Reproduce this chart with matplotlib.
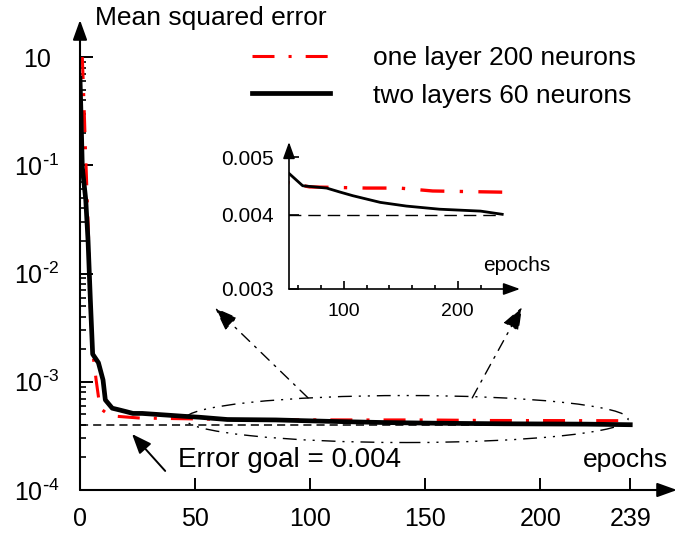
import matplotlib.pyplot as plt
from matplotlib.patches import Ellipse
from matplotlib.ticker import FixedLocator, NullLocator

plt.rcParams['font.family'] = 'Liberation Sans'
plt.rcParams['mathtext.default'] = 'regular'

RED = '#ff0000'
BLACK = '#000000'

# training curves (epoch, mean squared error)
epochs_one = [1, 1.7, 2.2, 3, 3.7, 4.3, 5.6, 7, 8.7, 13, 26, 52, 70, 120, 149, 178, 239]
mse_one = [10, 4.0, 1.8, 0.59, 0.22, 0.057, 0.018, 0.0104, 0.0057, 0.00485, 0.00462,
           0.00453, 0.00446, 0.00444, 0.00444, 0.00439, 0.00437]

epochs_two = [0, 0.5, 1, 2.5, 3.5, 4.5, 5.5, 8, 10, 11, 14, 17, 20, 23, 27, 39, 45,
              52, 64, 85, 97, 108, 132, 155, 184, 196, 220, 239]
mse_two = [6.4, 2.6, 0.96, 0.48, 0.2, 0.057, 0.018, 0.015, 0.0104, 0.0068, 0.0057,
           0.0055, 0.0053, 0.0051, 0.0051, 0.0049, 0.0048, 0.0047, 0.00448, 0.00444,
           0.00437, 0.00431, 0.0042, 0.00414, 0.00409, 0.00408, 0.00406, 0.00401]

ERROR_GOAL = 0.004
LAST_EPOCH = 239

MAIN_XTICKS = [0, 50, 100, 150, 200, 239]
MAIN_YTICKS = [10, 1, 0.1, 0.01, 0.001]
MAIN_YLABELS = ['10', r'$10^{\text{-}1}$', r'$10^{\text{-}2}$', r'$10^{\text{-}3}$',
                r'$10^{\text{-}4}$']
INSET_XTICKS = [100, 200]
INSET_XMINOR = [60, 80, 120, 140, 160, 180, 220]
INSET_YTICKS = [0.003, 0.004, 0.005]
INSET_YLABELS = ['0.003', '0.004', '0.005']

RED_DASH = (7.2, 4.6, 1, 4.6)


def axis_arrows(ax, lw, scale):
    # draw the two axis lines as arrows instead of plain spines
    for end in [(1, 0), (0, 1)]:
        ax.annotate('', xy=end, xytext=(0, 0), xycoords='axes fraction',
                    arrowprops=dict(arrowstyle='-|>,head_length=1.0,head_width=0.36',
                                    lw=lw, color=BLACK, shrinkA=0, shrinkB=0,
                                    mutation_scale=scale),
                    annotation_clip=False)
    for s in ax.spines.values():
        s.set_visible(False)


fig = plt.figure(figsize=(6.78, 5.33), dpi=100)
ax = fig.add_axes([80 / 678, 43 / 533, 597 / 678, 470 / 533])

ax.semilogy(epochs_one, mse_one, color=RED, lw=2.2, dashes=RED_DASH,
            label='one layer 200 neurons')
ax.semilogy(epochs_two, mse_two, color=BLACK, lw=3.4,
            label='two layers 60 neurons')
ax.hlines(ERROR_GOAL, 0, LAST_EPOCH, color=BLACK, lw=1.1, linestyles=(0, (5.3, 3.3)))

ax.set_xlim(0, 259.3)
ax.set_ylim(0.001, 22)
ax.set_xticks(MAIN_XTICKS)
ax.set_xticklabels([str(t) for t in MAIN_XTICKS])
ax.yaxis.set_major_locator(FixedLocator(MAIN_YTICKS))
ax.set_yticklabels(MAIN_YLABELS)
ax.yaxis.set_minor_locator(FixedLocator([k * 10.0 ** e for e in range(-3, 1) for k in range(2, 10)]))
ax.xaxis.set_minor_locator(NullLocator())
ax.tick_params(axis='x', direction='in', length=8.6, width=1.4, labelsize=18, pad=12)
ax.tick_params(axis='y', which='major', direction='in', length=9.4, width=1.4,
               labelsize=18, pad=31)
ax.tick_params(axis='y', which='minor', direction='in', length=4.3, width=1.2)
for lab in ax.get_yticklabels():
    lab.set_horizontalalignment('center')
axis_arrows(ax, 1.5, 12)

fig.text(95 / 678, 1 - 18 / 533, 'Mean squared error', fontsize=19, va='center')
ax.text(0.985, 0.064, 'epochs', transform=ax.transAxes, fontsize=19,
        ha='right', va='center')

leg = ax.legend(loc='upper left', bbox_to_anchor=(252 / 678, 1 - 46 / 533),
                bbox_transform=fig.transFigure, frameon=False, fontsize=19,
                handlelength=2.95, handletextpad=1.63, labelspacing=0.52,
                borderpad=0, borderaxespad=0)

# error goal annotation
ax.annotate('', xy=(22.6, 0.00329), xytext=(37, 0.0015),
            arrowprops=dict(arrowstyle='-|>,head_length=1.0,head_width=0.4',
                            color=BLACK, lw=1.4, shrinkA=0, shrinkB=0,
                            mutation_scale=12))
ax.text(0.164, 0.064, 'Error goal = 0.004', transform=ax.transAxes, fontsize=20,
        va='center', ha='left')

# ellipse round the tail of the curves
ax.add_patch(Ellipse((0.547, 0.151), 0.742, 0.1, transform=ax.transAxes,
                     fill=False, lw=1.0, color=BLACK,
                     linestyle=(0, (10, 5, 1.5, 5, 1.5, 5))))

# inset
axi = fig.add_axes([289 / 678, (533 - 289) / 533, 231 / 678, 147 / 533])
axi.patch.set_alpha(0)
axi.semilogy(epochs_one, mse_one, color=RED, lw=2.4, dashes=RED_DASH)
axi.semilogy(epochs_two, mse_two, color=BLACK, lw=2.0)
axi.hlines(ERROR_GOAL, 0, 237, color=BLACK, lw=1.0, linestyles=(0, (9, 5)))
axi.set_xlim(52, 254.6)
axi.set_ylim(0.003, 0.00531)
axi.set_xticks(INSET_XTICKS)
axi.set_xticks(INSET_XMINOR, minor=True)
axi.yaxis.set_major_locator(FixedLocator(INSET_YTICKS))
axi.yaxis.set_minor_locator(NullLocator())
axi.set_yticklabels(INSET_YLABELS)
axi.tick_params(axis='x', which='major', direction='in', length=5.5, width=1.2,
                labelsize=14, pad=10)
axi.tick_params(axis='x', which='minor', direction='in', length=3, width=1.2)
axi.tick_params(axis='y', direction='in', length=7, width=1.2, labelsize=15, pad=11)
axis_arrows(axi, 1.2, 10)
axi.text(0.84, 0.163, 'epochs', transform=axi.transAxes, fontsize=15,
         ha='left', va='center')

# dash-dot pointers from the ellipse to the inset
for tip, tail in [((-0.32, -0.129), (0.382, 0.196)), ((1.009, -0.122), (0.657, 0.196))]:
    axi.annotate('', xy=tip, xycoords='axes fraction',
                 xytext=tail, textcoords=ax.transAxes,
                 arrowprops=dict(arrowstyle='-|>,head_length=1.2,head_width=0.45',
                                 color=BLACK, lw=1.0, linestyle=(0, (8, 5, 1.5, 5)),
                                 shrinkA=0, shrinkB=0, mutation_scale=12),
                 annotation_clip=False)

fig.savefig('out.png', dpi=100)
